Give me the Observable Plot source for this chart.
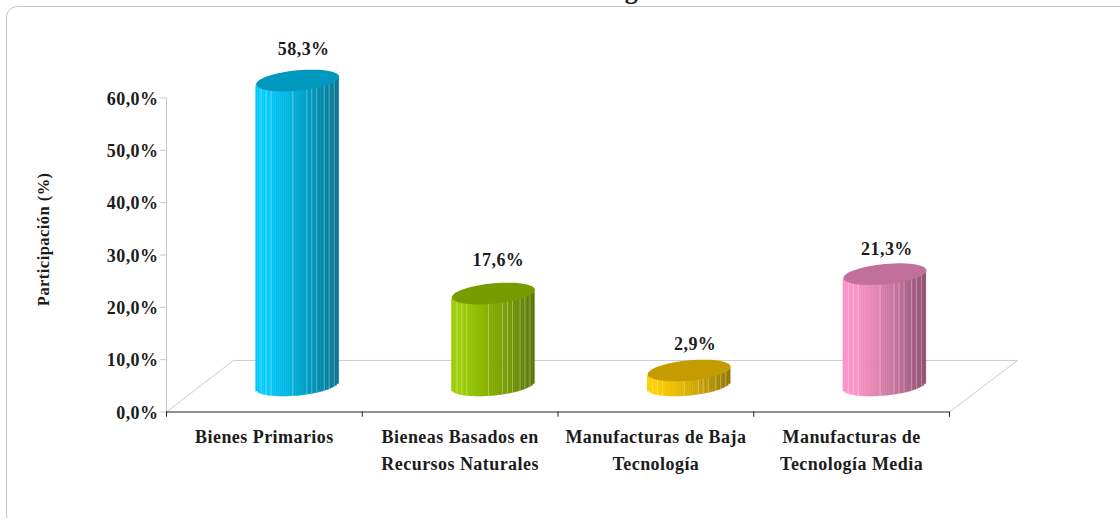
<!DOCTYPE html>
<html><head><meta charset="utf-8">
<script src="https://cdn.jsdelivr.net/npm/d3@7"></script>
<script src="https://cdn.jsdelivr.net/npm/@observablehq/plot@0.6"></script>
<style>
html,body{margin:0;padding:0;background:#fff;overflow:hidden;width:1120px;height:518px}
#chart{position:relative;width:1120px;height:518px;overflow:hidden}
#frame{position:absolute;left:6px;top:6px;width:1200px;height:520px;box-sizing:border-box;border:1.3px solid #c4c4c4;border-radius:11px}
svg{display:block;position:absolute;left:0;top:0}
svg text{letter-spacing:.45px}
</style>
</head><body><div id="chart"><div id="frame"></div></div>
<script>
const categories = ["Bienes Primarios","Bieneas Basados en\nRecursos Naturales","Manufacturas de Baja\nTecnología","Manufacturas de\nTecnología Media"];
const values = [58.3,17.6,2.9,21.3];
const valueLabels = ["58,3%","17,6%","2,9%","21,3%"];
const colors = ["#00b8e4","#8cba00","#e8bc00","#e685b5"];
const darkTops = ["#0098bd","#789c00","#c49c00","#c0709a"];
const yTicks = [0,10,20,30,40,50,60];
const seamAt = [.06,.12,.18,.44,.61,.67,.73,.82,.88,.94];

const cxOff=0.17, halfW=0.212;            // cylinder placement, in x units
const baseLift=5.03, tiltY=0.72, rY=1.95; // in y (percent) units
const labelDx=[6,5,6,2], labelDy=[-31,-33,-26,-25];
const rows=categories.map((c,i)=>({c,i,v:values[i]}));

const front=u=>{const nx=2*u-1;return tiltY*nx-rY*Math.sqrt(Math.max(0,1-nx*nx));};
function shade(hex,k){
  const c=d3.rgb(hex);
  const f=d3.scaleLinear().domain([0,.12,.4,.65,1]).range([1.1,1.1,.98,.84,.62])(k);
  return d3.rgb(c.r*f,c.g*f,c.b*f).formatHex();
}
const xAt=(i,u)=>i+.5+cxOff-halfW+u*2*halfW;
const strips=rows.flatMap(r=>d3.range(0,42).map(j=>{
  const e=j/42,e2=(j+1)/42,k=(e+e2)/2;
  return {x1:xAt(r.i,e),x2:xAt(r.i,e2),y1:baseLift+front(k),y2:r.v+baseLift+front(k),fill:shade(colors[r.i],k)};
}));
const seams=rows.flatMap(r=>seamAt.map(u=>({x:xAt(r.i,u),y1:baseLift+front(u),y2:r.v+baseLift+front(u)})));
const tops=rows.flatMap(r=>d3.range(0,61).map(n=>{const t=n/60*2*Math.PI;
  return {i:r.i,x:r.i+.5+cxOff+halfW*Math.cos(t),y:r.v+baseLift+tiltY*Math.cos(t)+rY*Math.sin(t)};}));
const floor=[{x:0,y:0},{x:.342,y:9.85},{x:4.347,y:9.85},{x:4,y:0}];
const serif="Liberation Serif";

const plot=Plot.plot({
  width:1120,height:518,marginLeft:166,marginRight:171,marginTop:97.5,marginBottom:106.5,
  x:{domain:[0,4],axis:null},y:{domain:[0,60],axis:null},
  style:{background:"transparent"},
  marks:[
    Plot.line(floor,{x:"x",y:"y",stroke:"#cccccc",strokeWidth:1}),
    Plot.ruleY(yTicks,{x1:-0.03,x2:0,stroke:"#c8c8c8"}),
    Plot.ruleX([0],{y1:0,y2:60,stroke:"#c8c8c8"}),
    Plot.ruleY([0],{x1:0,x2:4,stroke:"#222"}),
    Plot.ruleX([0,1,2,3,4],{y1:0,y2:-1,stroke:"#222"}),
    Plot.rect(strips,{x1:"x1",x2:"x2",y1:"y1",y2:"y2",fill:"fill",stroke:"fill",strokeWidth:.4}),
    Plot.ruleX(seams,{x:"x",y1:"y1",y2:"y2",stroke:"#fff",strokeOpacity:.32,strokeWidth:1}),
    Plot.line(tops,{x:"x",y:"y",z:"i",fill:d=>darkTops[d.i],stroke:"none"}),
    Plot.text(yTicks,{x:0,y:d=>d,dx:-8,dy:1,textAnchor:"end",text:d=>d.toFixed(1).replace(".",",")+"%",fontSize:18,fontWeight:"bold",fill:"#1c1c1c",fontFamily:serif}),
    Plot.text(rows,{x:d=>d.i+.5,y:0,dy:12,lineAnchor:"top",lineHeight:1.5,text:"c",fontSize:18,fontWeight:"bold",fill:"#1c1c1c",fontFamily:serif}),
    ...rows.map(d=>Plot.text([d],{x:d.i+.5+cxOff,y:d.v+baseLift,text:()=>valueLabels[d.i],dx:labelDx[d.i],dy:labelDy[d.i],fontSize:18,fontWeight:"bold",fill:"#1c1c1c",fontFamily:serif})),
    Plot.text(["Participación (%)"],{x:-.625,y:33,rotate:-90,fontSize:16.5,fontWeight:"bold",fill:"#1c1c1c",fontFamily:serif}),
    Plot.text(["g"],{x:2.375,y:79.4,dy:-6,fontSize:26,fontWeight:"bold",fill:"#1c1c1c",fontFamily:serif})
  ]
});
document.getElementById("chart").append(plot);
</script></body></html>
